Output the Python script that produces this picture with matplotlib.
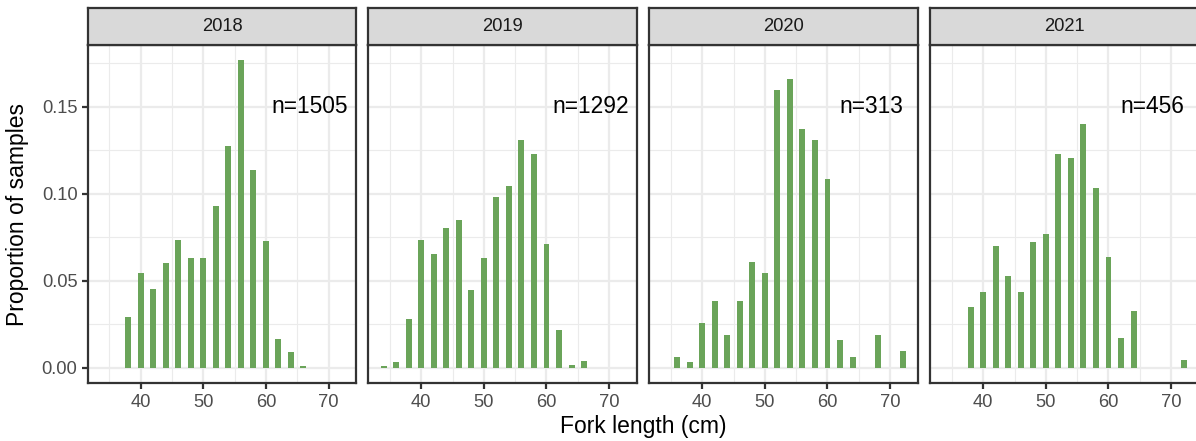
import matplotlib
matplotlib.use("Agg")
import matplotlib.pyplot as plt
import numpy as np

plt.rcParams['font.family'] = ['Liberation Sans', 'DejaVu Sans']

years = ["2018", "2019", "2020", "2021"]
n_labels = ["n=1505", "n=1292", "n=313", "n=456"]

len_2018 = [38, 40, 42, 44, 46, 48, 50, 52, 54, 56, 58, 60, 62, 64, 66]
prop_2018 = [0.029, 0.0548, 0.0456, 0.0605, 0.0737, 0.0634, 0.0634, 0.0931,
             0.1275, 0.1767, 0.1137, 0.0731, 0.0164, 0.0090, 0.0013]

len_2019 = [34, 36, 38, 40, 42, 44, 46, 48, 50, 52, 54, 56, 58, 60, 62, 64, 66]
prop_2019 = [0.0010, 0.0032, 0.0279, 0.0737, 0.0656, 0.0805, 0.0851, 0.0450,
             0.0634, 0.0983, 0.1046, 0.1309, 0.1229, 0.0714, 0.0216, 0.0015, 0.0038]

len_2020 = [36, 38, 40, 42, 44, 46, 48, 50, 52, 54, 56, 58, 60, 62, 64, 68, 72]
prop_2020 = [0.0064, 0.0032, 0.0256, 0.0383, 0.0192, 0.0383, 0.0607, 0.0543,
             0.1597, 0.1661, 0.1374, 0.1310, 0.1086, 0.0160, 0.0064, 0.0192, 0.0096]

len_2021 = [38, 40, 42, 44, 46, 48, 50, 52, 54, 56, 58, 60, 62, 64, 72]
prop_2021 = [0.0351, 0.0439, 0.0702, 0.0526, 0.0439, 0.0724, 0.0768, 0.1228,
             0.1206, 0.1404, 0.1031, 0.0636, 0.0175, 0.0329, 0.0044]

lengths = [len_2018, len_2019, len_2020, len_2021]
props = [prop_2018, prop_2019, prop_2020, prop_2021]

x_ticks = [40, 50, 60, 70]
y_ticks = [0.00, 0.05, 0.10, 0.15]
y_tick_labels = ["0.00", "0.05", "0.10", "0.15"]

W, H = 1196, 441
DPI = 150
fig = plt.figure(figsize=(W / DPI, H / DPI), dpi=DPI)

bar_color = "#6AA459"
grid_col = "#EBEBEB"
dark = "#333333"

panel_lefts = [87.7, 368.3, 649.3, 930.3]
panel_w = 268.7
panel_top = 45.0
panel_bot = 383.3
strip_top = 8.3

xlim = (31.55, 74.45)
ylim = (-0.0088, 0.1855)

for i in range(4):
    l = panel_lefts[i]
    ax = fig.add_axes([l / W, 1 - panel_bot / H, panel_w / W, (panel_bot - panel_top) / H])
    ax.set_xlim(*xlim)
    ax.set_ylim(*ylim)
    # grid
    for xm in [35, 45, 55, 65]:
        ax.axvline(xm, color=grid_col, lw=0.53, zorder=0)
    for ym in [0.025, 0.075, 0.125, 0.175]:
        ax.axhline(ym, color=grid_col, lw=0.53, zorder=0)
    for xm in x_ticks:
        ax.axvline(xm, color=grid_col, lw=1.07, zorder=0)
    for ym in y_ticks:
        ax.axhline(ym, color=grid_col, lw=1.07, zorder=0)
    ax.bar(lengths[i], props[i], width=0.95, color=bar_color, zorder=2)
    ax.text(67, 0.15, n_labels[i], ha="center", va="center", fontsize=10.9, color="black", zorder=3)
    ax.set_xticks(x_ticks)
    ax.set_xticklabels([str(t) for t in x_ticks])
    ax.set_yticks(y_ticks)
    if i == 0:
        ax.set_yticklabels(y_tick_labels)
        ax.tick_params(axis="y", length=2.75, width=1.07, color=dark, labelcolor="#4D4D4D",
                       labelsize=8.8, pad=2.2)
    else:
        ax.tick_params(axis="y", length=0, labelleft=False)
    ax.tick_params(axis="x", length=2.75, width=1.07, color=dark, labelcolor="#4D4D4D",
                   labelsize=8.8, pad=2.2)
    for s in ax.spines.values():
        s.set_color(dark)
        s.set_linewidth(1.07)
    ax.set_facecolor("white")

    sax = fig.add_axes([l / W, 1 - panel_top / H, panel_w / W, (panel_top - strip_top) / H])
    sax.set_facecolor("#D9D9D9")
    sax.set_xticks([])
    sax.set_yticks([])
    for s in sax.spines.values():
        s.set_color(dark)
        s.set_linewidth(1.07)
    sax.text(0.5, 0.5, years[i], ha="center", va="center", fontsize=8.8, color="#1A1A1A",
             transform=sax.transAxes)

fig.text((87.7 + 1199) / 2 / W, 1 - 427 / H, "Fork length (cm)", ha="center", va="center",
         fontsize=11, color="black")
fig.text(18 / W, 1 - (panel_top + panel_bot) / 2 / H, "Proportion of samples", ha="center",
         va="center", rotation=90, fontsize=11, color="black")

fig.savefig("out.png", dpi=DPI)
